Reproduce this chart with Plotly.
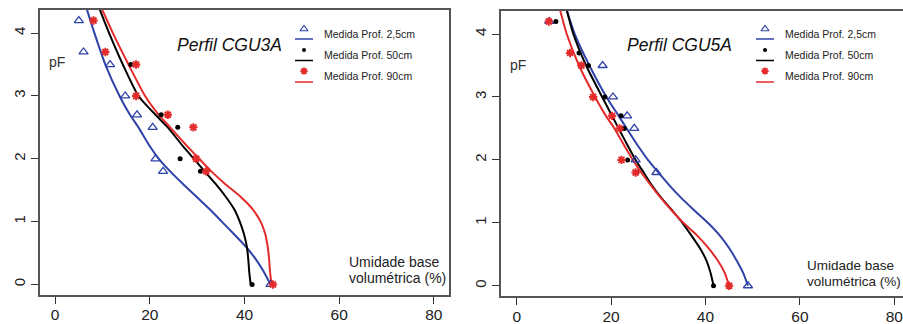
import plotly.graph_objects as go

W, H = 903, 324

# ---------------- data: Perfil CGU3A (left) ----------------
cgu3_blue_x = [5.0, 6.0, 11.6, 14.8, 17.3, 20.6, 21.2, 22.8, 45.5]
cgu3_blue_pf = [4.2, 3.7, 3.5, 3.0, 2.7, 2.5, 2.0, 1.8, 0.0]
cgu3_black_x = [16.0, 22.4, 25.9, 26.4, 30.7, 41.6]
cgu3_black_pf = [3.5, 2.7, 2.5, 2.0, 1.8, 0.0]
cgu3_red_x = [8.1, 10.6, 17.1, 17.1, 23.8, 29.2, 29.8, 31.9, 46.0]
cgu3_red_pf = [4.2, 3.7, 3.5, 3.0, 2.7, 2.5, 2.0, 1.8, 0.0]

fit_pf = [4.38, 4.0, 3.5, 3.0, 2.7, 2.5, 2.2, 2.0, 1.8, 1.6, 1.4, 1.2, 1.0, 0.8, 0.6, 0.4, 0.2, 0.0]
cgu3_blue_fit_x = [6.7, 8.3, 10.6, 13.6, 15.8, 17.6, 20.0, 21.9, 24.3, 27.0, 29.8, 32.6, 35.2, 37.8, 40.3, 42.4, 44.1, 45.5]
cgu3_black_fit_x = [9.4, 11.4, 14.3, 17.6, 21.2, 23.8, 27.0, 29.3, 31.6, 33.9, 36.0, 37.8, 39.0, 39.9, 40.5, 40.8, 41.0, 41.3]
cgu3_red_fit_x = [9.9, 12.2, 15.5, 19.0, 21.9, 24.3, 27.9, 30.4, 33.0, 35.9, 39.1, 41.7, 43.4, 44.4, 44.9, 45.2, 45.4, 45.7]

# ---------------- data: Perfil CGU5A (right) ----------------
cgu5_blue_x = [6.9, 18.2, 20.4, 23.4, 24.9, 25.2, 29.6, 49.0]
cgu5_blue_pf = [4.2, 3.5, 3.0, 2.7, 2.5, 2.0, 1.8, 0.0]
cgu5_black_x = [8.3, 13.2, 15.2, 18.7, 22.1, 22.8, 23.5, 25.4, 41.7]
cgu5_black_pf = [4.2, 3.7, 3.5, 3.0, 2.7, 2.5, 2.0, 1.8, 0.0]
cgu5_red_x = [6.8, 11.3, 13.7, 16.2, 20.2, 21.8, 22.2, 25.2, 45.0]
cgu5_red_pf = [4.2, 3.7, 3.5, 3.0, 2.7, 2.5, 2.0, 1.8, 0.0]

cgu5_blue_fit_x = [10.6, 12.3, 15.4, 19.0, 21.6, 23.3, 25.9, 27.8, 30.0, 32.3, 34.8, 37.6, 40.5, 43.0, 45.0, 46.6, 48.0, 49.0]
cgu5_black_fit_x = [10.6, 12.0, 14.7, 18.1, 20.2, 21.6, 23.7, 25.2, 26.9, 28.6, 30.6, 32.9, 35.1, 37.0, 38.8, 40.2, 41.1, 41.7]
cgu5_red_fit_x = [9.2, 10.6, 13.2, 16.6, 18.9, 20.7, 23.0, 24.6, 26.4, 28.4, 30.5, 32.8, 35.3, 38.2, 40.6, 42.6, 44.1, 45.0]

x_ticks = [0, 20, 40, 60, 80]
y_ticks = [0, 1, 2, 3, 4]
legend_labels = ["Medida Prof. 2,5cm", "Medida Prof. 50cm", "Medida Prof. 90cm"]
titles = ["Perfil CGU3A", "Perfil CGU5A"]

BLUE = "#2f42a8"
BLACK = "#000000"
RED = "#e32b2b"

SANS = "Liberation Sans, Arial, sans-serif"

fig = go.Figure()


def add_panel(xa, ya, bx, bp, kx, kp, rx, rp, bfx, kfx, rfx):
    for fx, col in [(bfx, BLUE), (kfx, BLACK), (rfx, RED)]:
        fig.add_trace(go.Scatter(x=fx, y=fit_pf, mode="lines", xaxis=xa, yaxis=ya,
                                 line=dict(color=col, width=2, shape="spline", smoothing=0.6),
                                 showlegend=False, hoverinfo="skip"))
    fig.add_trace(go.Scatter(x=bx, y=bp, mode="markers", xaxis=xa, yaxis=ya, showlegend=False,
                             marker=dict(symbol="triangle-up-open", size=8, color=BLUE, line=dict(width=1.3, color=BLUE))))
    fig.add_trace(go.Scatter(x=kx, y=kp, mode="markers", xaxis=xa, yaxis=ya, showlegend=False,
                             marker=dict(symbol="circle", size=5, color=BLACK)))
    fig.add_trace(go.Scatter(x=rx, y=rp, mode="markers", xaxis=xa, yaxis=ya, showlegend=False,
                             marker=dict(symbol="asterisk-open", size=7, color=RED, line=dict(width=2, color=RED))))


add_panel("x", "y", cgu3_blue_x, cgu3_blue_pf, cgu3_black_x, cgu3_black_pf, cgu3_red_x, cgu3_red_pf,
          cgu3_blue_fit_x, cgu3_black_fit_x, cgu3_red_fit_x)
add_panel("x2", "y2", cgu5_blue_x, cgu5_blue_pf, cgu5_black_x, cgu5_black_pf, cgu5_red_x, cgu5_red_pf,
          cgu5_blue_fit_x, cgu5_black_fit_x, cgu5_red_fit_x)

# legend glyphs on a pixel overlay
leg_cols = [BLUE, BLACK, RED]
leg_syms = [dict(symbol="triangle-up-open", size=7, color=BLUE, line=dict(width=1.2, color=BLUE)),
            dict(symbol="circle", size=4, color=BLACK),
            dict(symbol="asterisk-open", size=6, color=RED, line=dict(width=1.8, color=RED))]
for lx0, tx in [(295, 322), (756, 783)]:
    for i in range(3):
        ym = 29 + 21 * i
        yl = 39 + 21.5 * i
        fig.add_trace(go.Scatter(x=[lx0, lx0 + 18], y=[yl, yl], mode="lines", xaxis="x3", yaxis="y3",
                                 line=dict(color=leg_cols[i], width=1.5), showlegend=False, hoverinfo="skip"))
        fig.add_trace(go.Scatter(x=[lx0 + 9], y=[ym], mode="markers", xaxis="x3", yaxis="y3",
                                 marker=leg_syms[i], showlegend=False, hoverinfo="skip"))
        fig.add_annotation(x=tx / W, y=1 - (34 + 21 * i) / H, xref="paper", yref="paper",
                           text=legend_labels[i], showarrow=False, xanchor="left", yanchor="middle",
                           font=dict(family=SANS, size=10.5, color="#222"))

axis_common = dict(showgrid=False, zeroline=False, showline=True, linecolor="#555", automargin=False,
                   linewidth=1.5, ticks="outside", ticklen=7, tickcolor="#333", tickwidth=1,
                   ticklabeloverflow="allow")
yr = [-0.168, 4.368]
fig.update_layout(
    template="none",
    width=W, height=H, margin=dict(l=0, r=0, t=0, b=0, pad=0),
    paper_bgcolor="white", plot_bgcolor="rgba(0,0,0,0)",
    xaxis=dict(domain=[40 / W, 449 / W], range=[-3.2, 83.2], tickvals=x_ticks, anchor="y", mirror=True,
               ticklabelstandoff=-2, tickfont=dict(family=SANS, size=15.5, color="#222"), **axis_common),
    yaxis=dict(domain=[1 - 295 / H, 1 - 10 / H], range=yr, tickvals=y_ticks, anchor="x", tickangle=-90, mirror=True,
               tickfont=dict(family=SANS, size=15, color="#222"), **axis_common),
    xaxis2=dict(domain=[501 / W, 1.0], range=[-3.33, 81.85], tickvals=x_ticks, anchor="y2", mirror=True,
                ticklabelstandoff=-2, tickfont=dict(family=SANS, size=15.5, color="#222"), **axis_common),
    yaxis2=dict(domain=[1 - 296.3 / H, 1 - 10.9 / H], range=yr, tickvals=y_ticks, anchor="x2", tickangle=-90,
                mirror=False, tickfont=dict(family=SANS, size=15, color="#222"), **axis_common),
    xaxis3=dict(domain=[0, 1], range=[0, W], visible=False, anchor="y3", automargin=False),
    yaxis3=dict(domain=[0, 1], range=[H, 0], visible=False, anchor="x3", automargin=False),
)

# titles and texts
for (cx, txt) in [(229, titles[0]), (679, titles[1])]:
    fig.add_annotation(x=cx / W, y=1 - 45 / H, xref="paper", yref="paper", text="<i>" + txt + "</i>",
                       showarrow=False, xanchor="center", yanchor="middle",
                       font=dict(family=SANS, size=17.5, color="#111"))
for px_, py_ in [(47, 62), (508, 65)]:
    fig.add_annotation(x=px_ / W, y=1 - py_ / H, xref="paper", yref="paper", text="pF", showarrow=False,
                       xanchor="left", yanchor="middle", font=dict(family=SANS, size=14, color="#333"))
for ux, uy, fs in [(347, 262, 14), (805, 265, 13.5)]:
    fig.add_annotation(x=ux / W, y=1 - uy / H, xref="paper", yref="paper", text="Umidade base",
                       showarrow=False, xanchor="left", yanchor="middle",
                       font=dict(family=SANS, size=fs, color="#222"))
    fig.add_annotation(x=ux / W, y=1 - (uy + 16) / H, xref="paper", yref="paper", text="volumétrica (%)",
                       showarrow=False, xanchor="left", yanchor="middle",
                       font=dict(family=SANS, size=fs, color="#222"))

fig.write_html("out.html")
